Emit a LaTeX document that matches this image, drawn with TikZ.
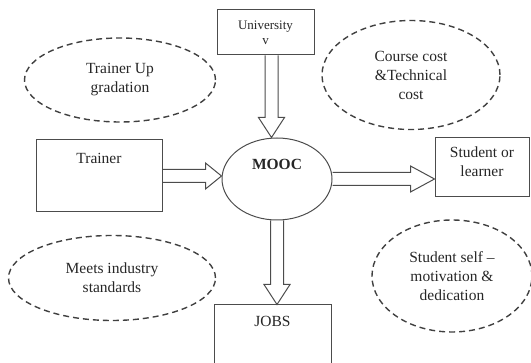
\documentclass[tikz,border=0pt]{standalone}
\usepackage{fontspec}
\setmainfont{Liberation Serif}
\usetikzlibrary{shapes.geometric}
\usetikzlibrary{calc}

\tikzset{
  box/.style={draw=black!70,line width=1pt,rectangle,inner sep=0pt,align=center},
  cloud/.style={draw=black!75,line width=1.4pt,dash pattern=on 6pt off 4pt,ellipse,inner sep=0pt,align=center},
  arrowline/.style={draw=black!70,line width=1pt,line join=miter},
  txt/.style={font=\fontsize{15.5}{19}\selectfont,text=black!85}
}

\newcommand{\blockarrow}[4]{%
  \coordinate (#4) at ($(#2)!#3!(#1)$);
  \draw[arrowline] ($(#1)!6.5pt!90:(#2)$) -- ($(#4)!6.5pt!90:(#2)$) -- ($(#4)!13pt!90:(#2)$) -- (#2)
    -- ($(#4)!13pt!-90:(#2)$) -- ($(#4)!6.5pt!-90:(#2)$) -- ($(#1)!6.5pt!-90:(#2)$);
}

\begin{document}
\begin{tikzpicture}[x=1pt,y=-1pt]
\useasboundingbox (0,0) rectangle (531,363);

\node[cloud,txt,minimum width=191,minimum height=84] (upgrade) at (120,80) {Trainer Up\\gradation};
\node[cloud,txt,minimum width=178,minimum height=109] (cost) at (411,75) {Course cost\\\&Technical\\cost};
\node[cloud,txt,minimum width=207,minimum height=85] (industry) at (112,278) {Meets industry\\standards};
\node[cloud,txt,minimum width=160,minimum height=112] (motivation) at (452,276) {Student self --\\motivation \&\\dedication};

\node[box,minimum width=97,minimum height=45,font=\fontsize{13}{15}\selectfont,text=black!85] (univ) at (265.5,32.5) {University\\v};
\node[box,minimum width=126,minimum height=72,label={[txt,anchor=north,inner sep=0pt,yshift=-14pt]north:Trainer}] (trainer) at (99,176) {};
\node[draw=black!70,line width=1pt,ellipse,minimum width=110,minimum height=82,label={[txt,font=\fontsize{15.5}{19}\selectfont\bfseries,anchor=north,inner sep=0pt,yshift=-22pt]north:MOOC}] (mooc) at (277,179) {};
\node[box,minimum width=94,minimum height=59,label={[txt,align=center,anchor=north,inner sep=0pt,yshift=-9pt]north:Student or\\learner}] (student) at (482,167.5) {};
\node[box,minimum width=117,minimum height=64,label={[txt,anchor=north,inner sep=0pt,yshift=-12pt]north:JOBS}] (jobs) at (272.5,337) {};

\coordinate (univout) at ($(univ.south)+(6,0)$);
\coordinate (univin) at (univout |- mooc.north);
\blockarrow{univout}{univin}{20pt}{univhead}
\coordinate (trainin) at (trainer.east -| mooc.west);
\blockarrow{trainer.east}{trainin}{16pt}{trainhead}
\coordinate (studin) at (mooc.east -| student.west);
\blockarrow{mooc.east}{studin}{24pt}{studhead}
\coordinate (jobsin) at (mooc.south |- jobs.north);
\blockarrow{mooc.south}{jobsin}{20pt}{jobshead}

\end{tikzpicture}
\end{document}
